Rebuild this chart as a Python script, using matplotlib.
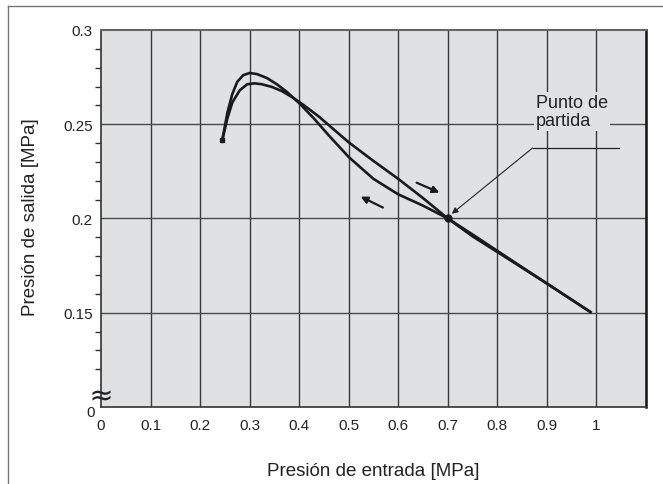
import numpy as np
import matplotlib.pyplot as plt
from matplotlib.lines import Line2D

plt.rcParams['font.family'] = ['Liberation Sans', 'DejaVu Sans']

# curva de subida (presion de entrada creciente)
x_sube = [0.245, 0.255, 0.265, 0.28, 0.295, 0.31, 0.325, 0.345, 0.365, 0.385,
          0.41, 0.44, 0.47, 0.5, 0.55, 0.6, 0.65, 0.7, 0.75, 0.8, 0.9, 0.99]
y_sube = [0.2418, 0.2530, 0.2615, 0.2680, 0.2712, 0.2717, 0.2712, 0.2698, 0.2676, 0.2645,
          0.2600, 0.2540, 0.2472, 0.2404, 0.2305, 0.2210, 0.2108, 0.2000, 0.1915, 0.1828, 0.1655, 0.1500]

# curva de bajada (presion de entrada decreciente)
x_baja = [0.245, 0.255, 0.265, 0.275, 0.287, 0.30, 0.315, 0.335, 0.355, 0.375,
          0.40, 0.43, 0.46, 0.5, 0.55, 0.6, 0.65, 0.7, 0.75, 0.8, 0.9, 0.99]
y_baja = [0.2418, 0.2560, 0.2660, 0.2725, 0.2760, 0.2772, 0.2766, 0.2745, 0.2712, 0.2672,
          0.2612, 0.2530, 0.2440, 0.2326, 0.2210, 0.2128, 0.2068, 0.2000, 0.1905, 0.1822, 0.1655, 0.1500]

punto_partida = (0.7, 0.2)
inicio = (0.245, 0.2418)

xticks = [0, 0.1, 0.2, 0.3, 0.4, 0.5, 0.6, 0.7, 0.8, 0.9, 1.0]
xlabels = ['0', '0.1', '0.2', '0.3', '0.4', '0.5', '0.6', '0.7', '0.8', '0.9', '1']
yticks = [0.15, 0.2, 0.25, 0.3]
ylabels = ['0.15', '0.2', '0.25', '0.3']
yminor = [0.12, 0.13, 0.14, 0.16, 0.17, 0.18, 0.19, 0.21, 0.22, 0.23, 0.24,
          0.26, 0.27, 0.28, 0.29]

fondo = '#e0e1e3'
tinta = '#1a1a1a'

fig = plt.figure(figsize=(6.63, 4.85), dpi=100)
ax = fig.add_axes([0.1523, 0.1588, 0.8221, 0.7773])
ax.set_facecolor(fondo)

ax.set_xlim(0, 1.1)
ax.set_ylim(0.1, 0.3)

ax.set_xticks(xticks)
ax.set_xticklabels(xlabels)
ax.set_yticks(yticks)
ax.set_yticklabels(ylabels)
ax.set_yticks(yminor, minor=True)
ax.tick_params(axis='x', length=0, pad=8, labelsize=11, colors='#222')
ax.tick_params(axis='y', which='major', length=0, pad=6, labelsize=11, colors='#222')
ax.tick_params(axis='y', which='minor', length=4, width=1, color='#333', direction='out')

for xv in xticks[1:]:
    ax.axvline(xv, color='#3a3a3a', lw=1.0, zorder=1)
for yv in [0.15, 0.2, 0.25]:
    ax.axhline(yv, color='#4a4a4a', lw=1.0, zorder=1)

for s in ['left', 'bottom']:
    ax.spines[s].set_color('#333')
    ax.spines[s].set_linewidth(1.2)
ax.spines['top'].set_color('#666')
ax.spines['top'].set_linewidth(1.5)
ax.spines['right'].set_color('#111')
ax.spines['right'].set_linewidth(1.8)

# "0" del eje y roto y marca de corte
ax.text(-0.012, -0.014, '0', transform=ax.transAxes, ha='right', va='center',
        fontsize=11, color='#222')
ax.plot([0.0], [0.032], marker='$\\approx$', ms=13, mew=0, color='#222', lw=0,
        transform=ax.transAxes, clip_on=False, zorder=5)

ax.plot(x_sube, y_sube, color=tinta, lw=1.9, zorder=4, solid_capstyle='butt')
ax.plot(x_baja, y_baja, color=tinta, lw=1.9, zorder=4, solid_capstyle='butt')
ax.plot([inicio[0]], [inicio[1]], 's', color=tinta, ms=3.5, zorder=5)
ax.plot([punto_partida[0]], [punto_partida[1]], 'o', color=tinta, ms=5, zorder=5)

# flechas de sentido
ax.annotate('', xy=(0.683, 0.2137), xytext=(0.637, 0.2190),
            arrowprops=dict(arrowstyle='-|>', color=tinta, lw=1.6, mutation_scale=10,
                            shrinkA=0, shrinkB=0), zorder=5)
ax.annotate('', xy=(0.524, 0.2116), xytext=(0.569, 0.2058),
            arrowprops=dict(arrowstyle='-|>', color=tinta, lw=1.6, mutation_scale=10,
                            shrinkA=0, shrinkB=0), zorder=5)

# etiqueta del punto de partida
ax.text(0.878, 0.2662, 'Punto de\npartida', ha='left', va='top', fontsize=13,
        color='#222', linespacing=1.1, zorder=3,
        bbox=dict(boxstyle='square,pad=0.12', facecolor=fondo, edgecolor='none'))
ax.plot([0.871, 1.046], [0.2374, 0.2374], color='#222', lw=0.9, zorder=3)
ax.annotate('', xy=(0.708, 0.2025), xytext=(0.871, 0.2374),
            arrowprops=dict(arrowstyle='-|>', color='#222', lw=0.8, mutation_scale=9,
                            shrinkA=0, shrinkB=0), zorder=5)

ax.set_xlabel('Presi\u00f3n de entrada [MPa]', fontsize=13.5, color='#222')
ax.set_ylabel('Presi\u00f3n de salida [MPa]', fontsize=13.5, color='#222')
ax.xaxis.set_label_coords(0.5, -0.146)
ax.yaxis.set_label_coords(-0.114, 0.505)

# marco de la figura
fig.add_artist(Line2D([8 / 663, 1.0], [1 - 7 / 485, 1 - 7 / 485], color='#777', lw=1.0))
fig.add_artist(Line2D([8 / 663, 8 / 663], [0.0, 1 - 7 / 485], color='#777', lw=1.0))

fig.savefig('out.png', dpi=100)
